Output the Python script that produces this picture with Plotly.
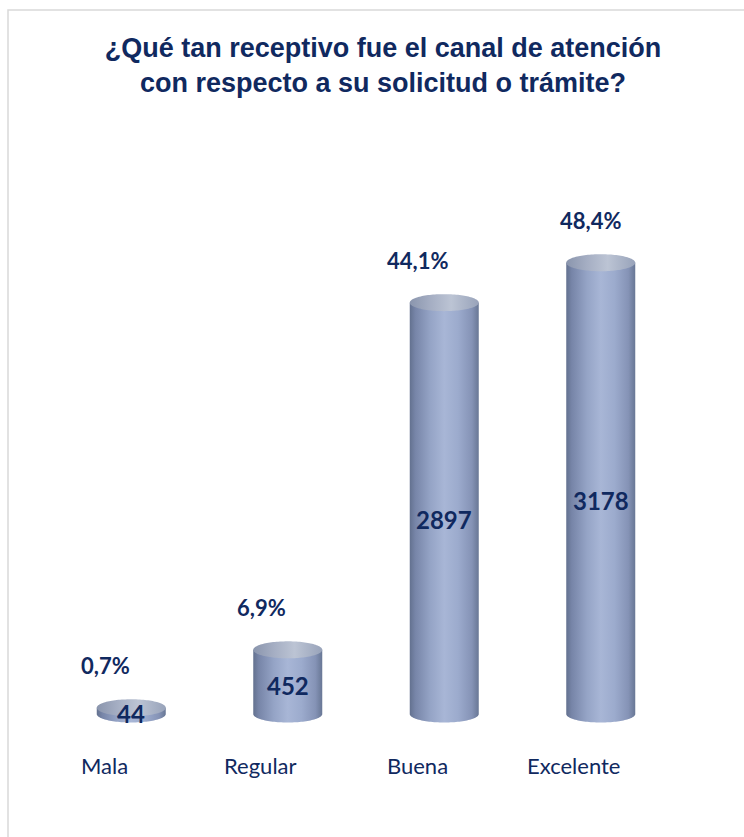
import numpy as np
import plotly.graph_objects as go

# --- data -------------------------------------------------------------
categories = ["Mala", "Regular", "Buena", "Excelente"]
counts = [44, 452, 2897, 3178]

total = sum(counts)
percents = [100.0 * c / total for c in counts]
pct_labels = [f"{p:.1f}%".replace(".", ",") for p in percents]

# --- layout constants (pixels) ----------------------------------------
W, H = 744, 837
M_L, M_R = 53, 65
PLOT_TOP, PLOT_BOTTOM = 110, 800
BASE_PX = 714            # vertical pixel of the cylinders' base centre
PX_PER_COUNT = 0.142     # vertical scale
HALF_W_PX = 34.5         # cylinder half width
ELL_PX = 8.5             # half height of the elliptical caps

PW = W - M_L - M_R
PH = PLOT_BOTTOM - PLOT_TOP
PX_PER_CAT = PW / 4.0
HALF_W = HALF_W_PX / PX_PER_CAT
ELL_H = ELL_PX / PX_PER_COUNT
Y_LO = -(PLOT_BOTTOM - BASE_PX) / PX_PER_COUNT
Y_HI = (BASE_PX - PLOT_TOP) / PX_PER_COUNT

NAVY = "#10295f"
BODY_SCALE = [
    [0.0, "#63718f"], [0.08, "#7785a8"], [0.3, "#95a4c6"], [0.5, "#a8b6d6"],
    [0.7, "#9cabcd"], [0.9, "#8593b6"], [1.0, "#687795"],
]
CAP_SCALE = [
    [0.0, "#8a95ad"], [0.3, "#a5aec3"], [0.6, "#bcc4d4"], [1.0, "#98a3ba"],
]
LABEL_XSHIFT = [-26, -26, -27, -10]

fig = go.Figure()

t_low = np.linspace(np.pi, 2 * np.pi, 60)
t_full = np.linspace(0, 2 * np.pi, 120)

for i, v in enumerate(counts):
    # cylinder body: lower half-ellipse at the base, straight sides up to the value
    bx = list(i + HALF_W * np.cos(t_low)) + [i + HALF_W, i - HALF_W]
    by = list(ELL_H * np.sin(t_low)) + [v, v]
    fig.add_trace(go.Scatter(
        x=bx + [bx[0]], y=by + [by[0]], mode="none", fill="toself",
        fillgradient=dict(type="horizontal", colorscale=BODY_SCALE),
        hoverinfo="skip", showlegend=False,
    ))
    # top cap
    fig.add_trace(go.Scatter(
        x=i + HALF_W * np.cos(t_full), y=v + ELL_H * np.sin(t_full),
        mode="none", fill="toself",
        fillgradient=dict(type="horizontal", colorscale=CAP_SCALE),
        hoverinfo="skip", showlegend=False,
    ))

annotations = []
vmax = max(counts)
for i, (cat, v, pl) in enumerate(zip(categories, counts, pct_labels)):
    annotations.append(dict(
        x=i, y=v, xref="x", yref="y", text=pl, showarrow=False,
        xshift=LABEL_XSHIFT[i], yshift=42,
        font=dict(family="Lato", size=22, color=NAVY, weight="bold"),
    ))
    annotations.append(dict(
        x=i, y=v / 2, xref="x", yref="y", text=str(v), showarrow=False,
        yshift=-(2 + 10 * v / vmax),
        font=dict(family="Lato", size=24, color=NAVY, weight="bold"),
    ))
    annotations.append(dict(
        x=i, y=0, xref="x", yref="y", text=cat, showarrow=False,
        xshift=-27, yshift=-51,
        font=dict(family="Lato", size=22, color=NAVY),
    ))

fig.update_layout(
    width=W, height=H,
    margin=dict(l=M_L, r=M_R, t=PLOT_TOP, b=H - PLOT_BOTTOM, autoexpand=False),
    paper_bgcolor="white", plot_bgcolor="white",
    title=dict(
        text="¿Qué tan receptivo fue el canal de atención<br>con respecto a su solicitud o trámite?",
        x=383 / W, xref="container", xanchor="center",
        y=1 - 57 / H, yref="container", yanchor="middle",
        font=dict(family="Liberation Sans", size=27, color=NAVY, weight="bold"),
    ),
    xaxis=dict(range=[-0.5, 3.5], visible=False, fixedrange=True),
    yaxis=dict(range=[Y_LO, Y_HI], visible=False, fixedrange=True),
    showlegend=False,
    hovermode=False,
    annotations=annotations,
    shapes=[dict(
        type="rect", xref="paper", yref="paper",
        x0=(8 - M_L) / PW, x1=(W + 4 - M_L) / PW,
        y0=(PLOT_BOTTOM - (H + 4)) / PH, y1=(PLOT_BOTTOM - 10) / PH,
        line=dict(color="#d9d9d9", width=1.5), fillcolor="rgba(0,0,0,0)",
        layer="below",
    )],
)

fig.write_html("out.html")
